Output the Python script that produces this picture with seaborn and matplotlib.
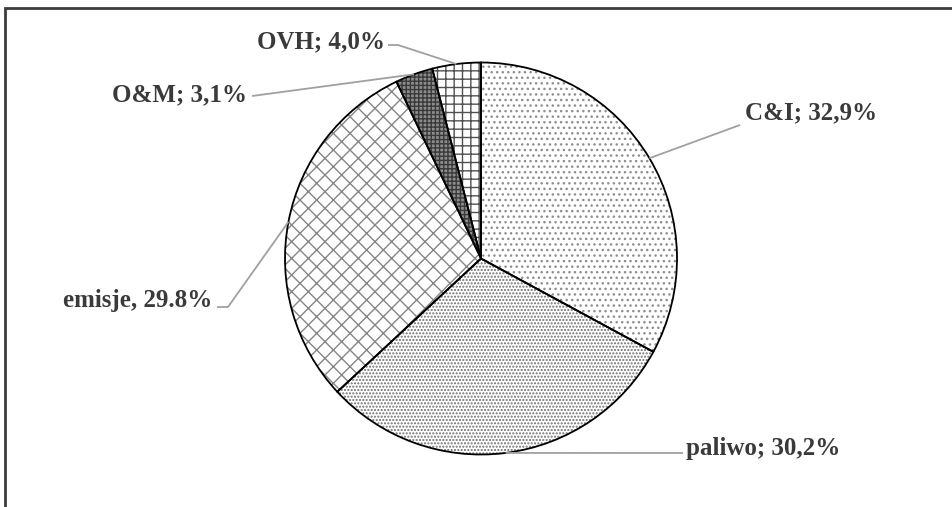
import numpy as np
import matplotlib.pyplot as plt
import seaborn as sns
from matplotlib.patches import Rectangle

# shares of the cost structure (clockwise from 12 o'clock)
categories = ['C&I', 'paliwo', 'emisje', 'O&M', 'OVH']
shares = [32.9, 30.2, 29.8, 3.1, 4.0]
label_texts = ['C&I; 32,9%', 'paliwo; 30,2%', 'emisje, 29.8%', 'O&M; 3,1%', 'OVH; 4,0%']

# fill style per slice
hatches = ['...', '.....', 'xx', '++++', '++']
hatch_colors = ['#8f8f8f', '#6e6e6e', '#858585', '#3a3a3a', '#505050']
face_colors = ['white', 'white', 'white', '#8c8c8c', 'white']

# label layout in pixel units (image coords, y measured from top)
W, H = 952, 507
CX, CY, R = 481, 258.5, 196
label_layout = {
    'C&I':    dict(text=(745, 113), ha='left',  path=[(740, 125)]),
    'paliwo': dict(text=(686, 448), ha='left',  path=[(683, 453)]),
    'emisje': dict(text=(212, 300), ha='right', path=[(228, 307), (217, 307)]),
    'O&M':    dict(text=(247, 95),  ha='right', path=[(252, 96)]),
    'OVH':    dict(text=(385, 42),  ha='right', path=[(398, 45), (388, 45)]),
}

sns.set_theme(style='white')
plt.rcParams['font.family'] = ['Liberation Serif', 'DejaVu Serif']
plt.rcParams['hatch.linewidth'] = 1.0

fig = plt.figure(figsize=(W / 100, H / 100), dpi=100)
ax = fig.add_axes([0, 0, 1, 1])

center = (CX, H - CY)

# hatched fills
wedges, _ = ax.pie(shares, startangle=90, counterclock=False, center=center,
                   radius=R, colors=face_colors,
                   wedgeprops=dict(linewidth=0), frame=True)
for w, h, hc in zip(wedges, hatches, hatch_colors):
    w.set_hatch(h)
    w.set_edgecolor(hc)
    w.set_linewidth(0)

# black outlines on top
ax.pie(shares, startangle=90, counterclock=False, center=center, radius=R,
       wedgeprops=dict(fill=False, edgecolor='black', linewidth=1.3), frame=True)
ax.set_xlim(0, W)
ax.set_ylim(0, H)
ax.set_aspect('equal')
ax.axis('off')

# leader lines and labels
for w, cat, txt in zip(wedges, categories, label_texts):
    mid = np.deg2rad((w.theta1 + w.theta2) / 2)
    ax_x = CX + R * np.cos(mid)
    ax_y = (H - CY) + R * np.sin(mid)
    lay = label_layout[cat]
    xs = [ax_x] + [p[0] for p in lay['path']]
    ys = [ax_y] + [H - p[1] for p in lay['path']]
    ax.plot(xs, ys, color='#a0a0a0', linewidth=1.3, solid_capstyle='butt')
    tx, ty = lay['text']
    ax.text(tx, H - ty, txt, ha=lay['ha'], va='center', fontsize=18,
            fontweight='bold', color='#3a3a3a')

# chart border (runs off the right and bottom edge)
ax.add_patch(Rectangle((4.5, -10), W + 20, (H - 7.5) + 10, fill=False,
                       edgecolor='#3c3c3c', linewidth=2, clip_on=False))

fig.savefig('out.png', dpi=100)
